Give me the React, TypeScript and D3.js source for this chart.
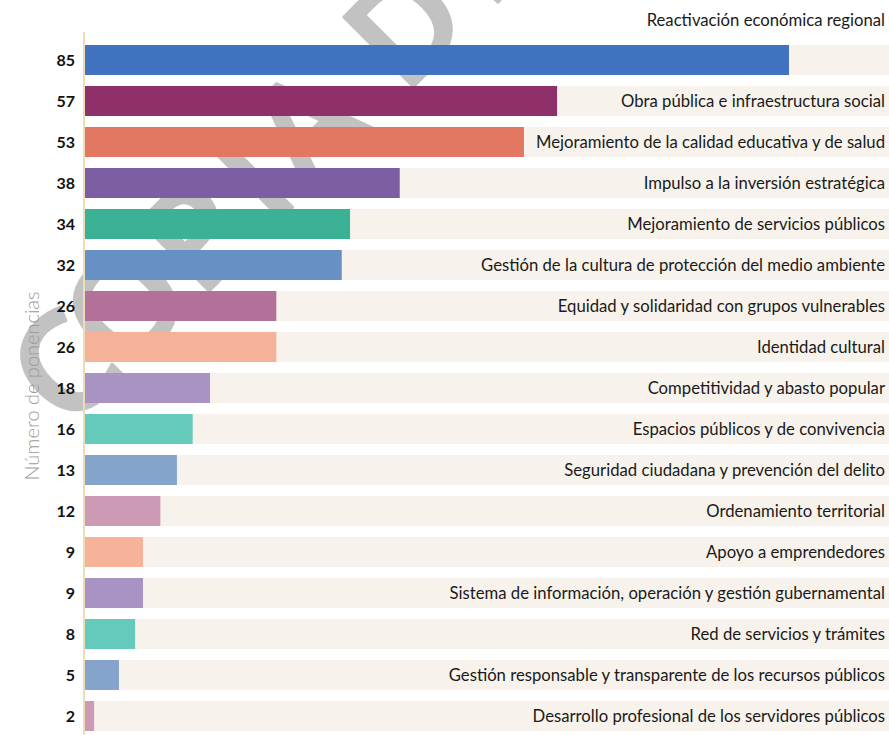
import React from "react";
import * as d3 from "d3";

const categories: string[] = [
  "Reactivación económica regional",
  "Obra pública e infraestructura social",
  "Mejoramiento de la calidad educativa y de salud",
  "Impulso a la inversión estratégica",
  "Mejoramiento de servicios públicos",
  "Gestión de la cultura de protección del medio ambiente",
  "Equidad y solidaridad con grupos vulnerables",
  "Identidad cultural",
  "Competitividad y abasto popular",
  "Espacios públicos y de convivencia",
  "Seguridad ciudadana y prevención del delito",
  "Ordenamiento territorial",
  "Apoyo a emprendedores",
  "Sistema de información, operación y gestión gubernamental",
  "Red de servicios y trámites",
  "Gestión responsable y transparente de los recursos públicos",
  "Desarrollo profesional de los servidores públicos",
];

// Número de ponencias (value labels)
const values: number[] = [85, 57, 53, 38, 34, 32, 26, 26, 18, 16, 13, 12, 9, 9, 8, 5, 2];

// Bar lengths as drawn in the picture (same units as the top bar)
const barLengths: number[] = [85, 57, 53, 38, 32, 31, 23.1, 23.1, 15.1, 13, 11.1, 9.1, 7, 7, 6.05, 4.1, 1.1];

const colors: string[] = [
  "#4172c0", "#8e306a", "#e27861", "#7c5ea3", "#3bb195", "#6791c4",
  "#b37098", "#f6b199", "#a993c3", "#64cabb", "#84a4cc", "#cd9ab6",
  "#f7b39a", "#a993c3", "#64cabb", "#84a4cc", "#cd9ab6",
];

const axisTitle = "Número de ponencias";

// Watermark letters and the x of each letter's centre on its (diagonal) baseline
const watermarkLetters: string[] = ["C", "O", "P", "I", "A", "D", "E"];
const watermarkPos: number[] = [99, 160, 230, 287, 340, 440, 516];

const W = 889;
const H = 735;

function measure(text: string, font: string): number {
  const c = document.createElement("canvas").getContext("2d");
  if (!c) return text.length * 7.8;
  c.font = font;
  return c.measureText(text).width;
}

export default function App() {
  const x = d3.scaleLinear().domain([0, 85]).range([85, 789]);
  const y = d3
    .scaleBand<number>()
    .domain(d3.range(categories.length))
    .range([45, 731])
    .paddingInner(11 / 41)
    .paddingOuter(0);
  const bw = y.bandwidth();
  const labelSize = 16.7;
  const labelFont = `${labelSize}px Lato`;
  const rightEdge = 885;
  const baseSum = 500; // watermark baseline: x + y = const

  return (
    <svg
      width={W}
      height={H}
      style={{ position: "absolute", left: 0, top: 0, background: "#fff" }}
    >
      <g
        fill="#c2c2c2"
        stroke="#c2c2c2"
        strokeWidth={3}
        strokeLinejoin="round"
        fontFamily="'Open Sans'"
        fontWeight={600}
        fontSize={138}
      >
        {watermarkLetters.map((ch, i) => {
          const bx = watermarkPos[i];
          const by = baseSum - bx;
          return (
            <text
              key={"w" + i}
              textAnchor="middle"
              transform={`translate(${bx},${by}) rotate(-45)`}
            >
              {ch}
            </text>
          );
        })}
      </g>
      {categories.map((c, i) => (
        <rect key={"bg" + i} x={x(0)} y={y(i)} width={W - x(0)} height={bw} fill="#f7f3ec" />
      ))}
      <line x1={84} x2={84} y1={32} y2={H} stroke="#eedcb5" strokeWidth={2} />
      {barLengths.map((v, i) => (
        <rect key={"b" + i} x={x(0)} y={y(i)} width={x(v) - x(0)} height={bw} fill={colors[i]} />
      ))}
      {categories.map((c, i) => {
        const w = measure(c, labelFont);
        const above = x(barLengths[i]) + 6 + w > rightEdge;
        const cy = above ? (y(i) as number) - 25 : (y(i) as number) + bw / 2;
        return (
          <text
            key={"l" + i}
            x={rightEdge}
            y={cy}
            dy="0.35em"
            textAnchor="end"
            fontFamily="Lato"
            fontSize={labelSize}
            fill="#1a1a1a"
          >
            {c}
          </text>
        );
      })}
      {values.map((v, i) => (
        <text
          key={"v" + i}
          x={75}
          y={(y(i) as number) + bw / 2}
          dy="0.36em"
          textAnchor="end"
          fontFamily="Lato"
          fontWeight={700}
          fontSize={16}
          fill="#111"
        >
          {v}
        </text>
      ))}
      <text
        transform="translate(39,386) rotate(-90)"
        textAnchor="middle"
        fontFamily="Lato"
        fontWeight={300}
        fontSize={20}
        fill="#9a9a9a"
      >
        {axisTitle}
      </text>
    </svg>
  );
}
